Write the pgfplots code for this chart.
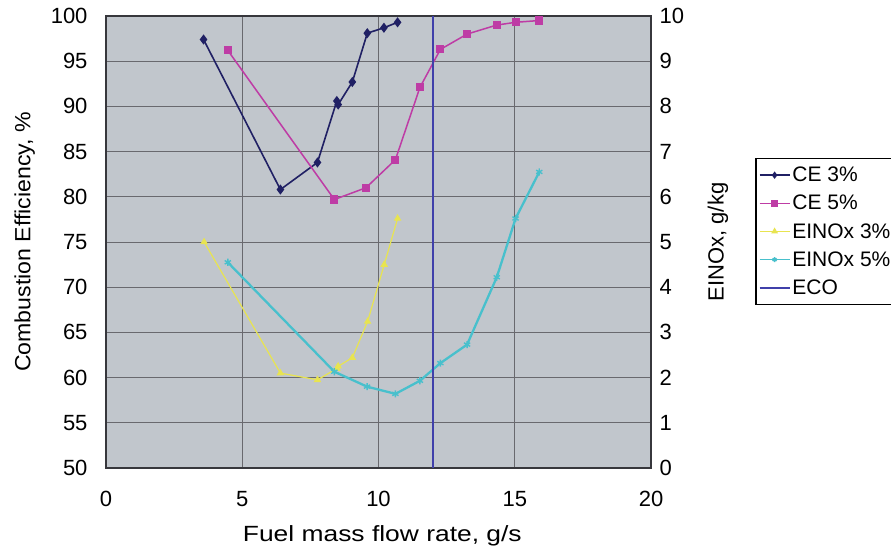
\documentclass[border=0pt]{standalone}
\usepackage{pgfplots}
\pgfplotsset{compat=1.18}
\usepackage{fontspec}
\setmainfont{Liberation Sans}
\newfontfamily\widefont{Liberation Sans}[FakeStretch=1.2]
\newfontfamily\semiwidefont{Liberation Sans}[FakeStretch=1.05]

\definecolor{plotbg}{RGB}{193,198,204}
\definecolor{gridc}{RGB}{105,105,110}
\definecolor{framec}{RGB}{55,55,60}
\definecolor{ceA}{RGB}{32,32,100}
\definecolor{ceB}{RGB}{190,60,165}
\definecolor{noA}{RGB}{232,228,80}
\definecolor{noB}{RGB}{72,192,204}
\definecolor{eco}{RGB}{64,64,170}

\pgfplotsset{
  base/.style={
    at={(106bp,86bp)}, anchor=south west,
    scale only axis, width=545bp, height=452bp,
    xmin=0, xmax=20,
    /pgf/number format/assume math mode=true,
    tick label style={font=\fontsize{22bp}{26bp}\selectfont},
    major tick length=0pt,
  },
  ce3/.style={color=ceA, line width=1.6bp, mark=diamond*, mark size=3.8bp, mark options={solid}},
  ce5/.style={color=ceB, line width=1.5bp, mark=square*, mark size=3.3bp, mark options={solid}},
  no3/.style={color=noA, line width=1.2bp, mark=triangle*, mark size=3.2bp, mark options={solid}},
  no5/.style={color=noB, line width=2.3bp, mark=asterisk, mark size=3.6bp, mark options={solid, line width=1.4bp}},
  ecol/.style={color=eco, line width=2.3bp},
}

\begin{document}
\begin{tikzpicture}
% combustion efficiency, left scale
\begin{axis}[base,
  ymin=50, ymax=100, ytick={50,55,...,100}, xtick={0,5,...,20},
  axis background/.style={fill=plotbg},
  grid=major, grid style={gridc, line width=0.9bp},
  axis line style={framec, line width=1.8bp},
  yticklabel style={anchor=east, xshift=-15bp},
  xticklabel style={anchor=north, yshift=-20bp},
  every axis x label/.style={at={(axis description cs:0.507,-0.150)}, anchor=center,
    font=\widefont\fontsize{22bp}{26bp}\selectfont},
  every axis y label/.style={at={(axis description cs:-0.149,0.5)}, rotate=90, anchor=center,
    font=\semiwidefont\fontsize{22bp}{26bp}\selectfont},
  xlabel={Fuel mass flow rate, g/s},
  ylabel={Combustion Efficiency, \%},
]
\addplot[ce3] coordinates {
  (3.58,97.4) (6.40,80.8) (7.76,83.8) (8.47,90.6) (8.52,90.2)
  (9.04,92.7) (9.59,98.1) (10.20,98.7) (10.70,99.3)
};
\addplot[ce5] coordinates {
  (4.47,96.2) (8.38,79.7) (9.54,81.0) (10.62,84.1) (11.52,92.1)
  (12.27,96.3) (13.25,98.0) (14.34,99.0) (15.03,99.3) (15.90,99.5)
};
\end{axis}
% NOx emission index, right scale
\begin{axis}[base,
  axis y line*=right, axis x line=none,
  ymin=0, ymax=10, ytick={0,1,...,10},
  axis line style={framec, line width=1.8bp},
  yticklabel style={anchor=west, xshift=5bp},
  every axis y label/.style={at={(axis description cs:1.123,0.5)}, rotate=90, anchor=center,
    font=\fontsize{22bp}{26bp}\selectfont},
  ylabel={EINOx, g/kg},
  legend style={at={(axis description cs:1.191,0.686)}, anchor=north west,
    draw=black, line width=1.4bp, fill=white,
    font=\fontsize{21bp}{25bp}\selectfont,
    row sep=8bp, inner xsep=3bp, inner ysep=6.5bp},
  legend cell align=left,
  legend image code/.code={%
    \draw[mark repeat=2, mark phase=2, line width=1.6bp, mark size=2.4bp] plot coordinates {(0bp,0bp) (15bp,0bp) (30bp,0bp)};},
]
\addlegendimage{ce3}
\addlegendentry{CE 3\%}
\addlegendimage{ce5}
\addlegendentry{CE 5\%}
\addplot[no3] coordinates {
  (3.60,5.00) (6.40,2.10) (7.76,1.95) (8.47,2.20) (8.52,2.25)
  (9.04,2.44) (9.60,3.24) (10.21,4.50) (10.70,5.52)
};
\addlegendentry{EINOx 3\%}
\addplot[no5] coordinates {
  (4.47,4.55) (8.38,2.13) (9.58,1.80) (10.62,1.64) (11.52,1.93)
  (12.27,2.32) (13.25,2.73) (14.34,4.22) (15.03,5.52) (15.90,6.55)
};
\addlegendentry{EINOx 5\%}
\addplot[ecol] coordinates {(12,0) (12,10)};
\addlegendentry{ECO}
\end{axis}
\pgfresetboundingbox
\path[use as bounding box] (0bp,0bp) rectangle (891bp,554bp);
\end{tikzpicture}
\end{document}
